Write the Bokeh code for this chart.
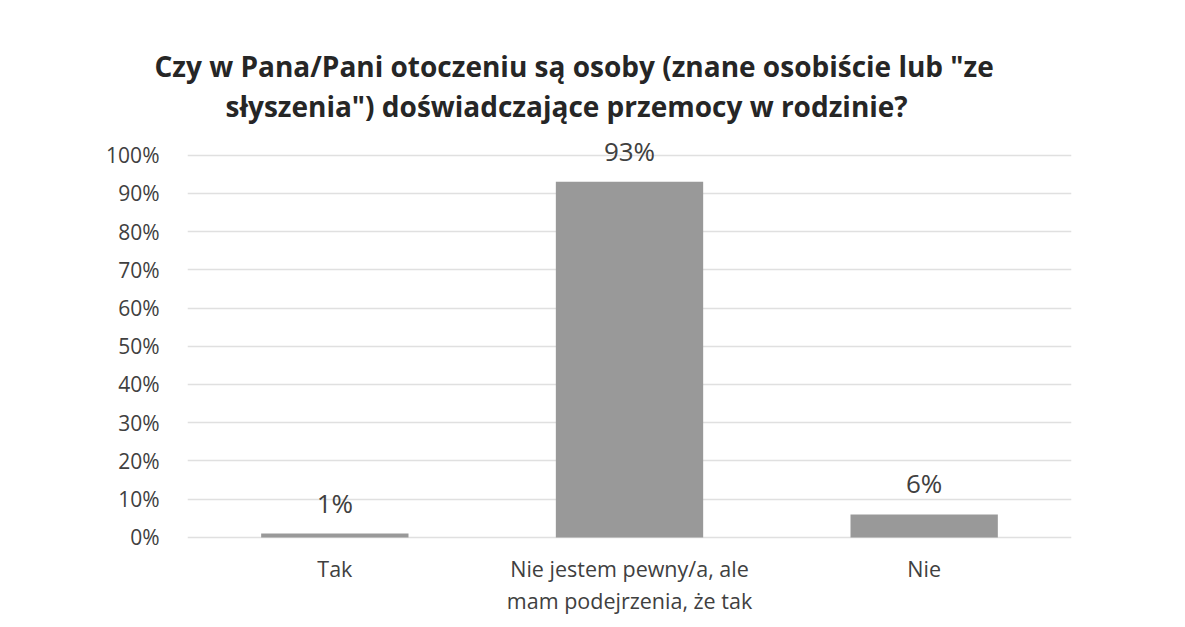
from bokeh.plotting import figure
from bokeh.models import ColumnDataSource, Title, FixedTicker, NumeralTickFormatter, Range1d
from bokeh.embed import file_html
from bokeh.resources import INLINE
from bokeh.core.properties import value

categories = ["Tak", "Nie jestem pewny/a, ale\nmam podejrzenia, że tak", "Nie"]
values = [0.01, 0.93, 0.06]
labels = ["1%", "93%", "6%"]
title_lines = ['Czy w Pana/Pani otoczeniu są osoby (znane osobiście lub "ze',
               'słyszenia") doświadczające przemocy w rodzinie?']
title_offsets = [-33, 38]
yticks = [0.0, 0.1, 0.2, 0.3, 0.4, 0.5, 0.6, 0.7, 0.8, 0.9, 1.0]

FONT = "Open Sans"

p = figure(x_range=categories, y_range=Range1d(-0.233, 1.08), width=1165, height=626,
           output_backend="svg", toolbar_location=None,
           min_border_left=187, min_border_right=94, min_border_top=124, min_border_bottom=0)
p.title = None
for line, off in reversed(list(zip(title_lines, title_offsets))):
    t = Title(text=line, align="left", offset=off, text_font=FONT, text_font_size="28px",
              text_font_style="bold", text_color="#262626", standoff=0, text_line_height=1.0)
    p.add_layout(t, "above")

src = ColumnDataSource(dict(cat=categories, val=values, lab=labels, base=[0.0] * len(values)))
p.vbar(x="cat", top="val", width=0.5, source=src, fill_color="#999999", line_color=None)
p.text(x="cat", y="val", text="lab", source=src, text_align="center", text_baseline="bottom",
       y_offset=-13, text_font=value(FONT), text_font_size="26px", text_color="#404040")
# category labels below the baseline
p.text(x="cat", y="base", text="cat", source=src, text_align="center", text_baseline="top",
       y_offset=17, text_font=value(FONT), text_font_size="21.5px", text_color="#404040",
       text_line_height=1.1)

p.outline_line_color = None
p.background_fill_color = "white"
p.border_fill_color = "white"
p.xgrid.grid_line_color = None
p.ygrid.grid_line_color = "#e0e0e0"
p.ygrid.grid_line_width = 1.5
p.xaxis.visible = False

p.yaxis.ticker = FixedTicker(ticks=yticks)
p.yaxis.formatter = NumeralTickFormatter(format="0%")
p.yaxis.axis_line_color = None
p.yaxis.major_tick_line_color = None
p.yaxis.minor_tick_line_color = None
p.yaxis.major_label_text_font = FONT
p.yaxis.major_label_text_color = "#404040"
p.yaxis.major_label_text_font_size = "21px"
p.yaxis.major_label_standoff = 22

open("out.html", "w").write(file_html(p, INLINE))
